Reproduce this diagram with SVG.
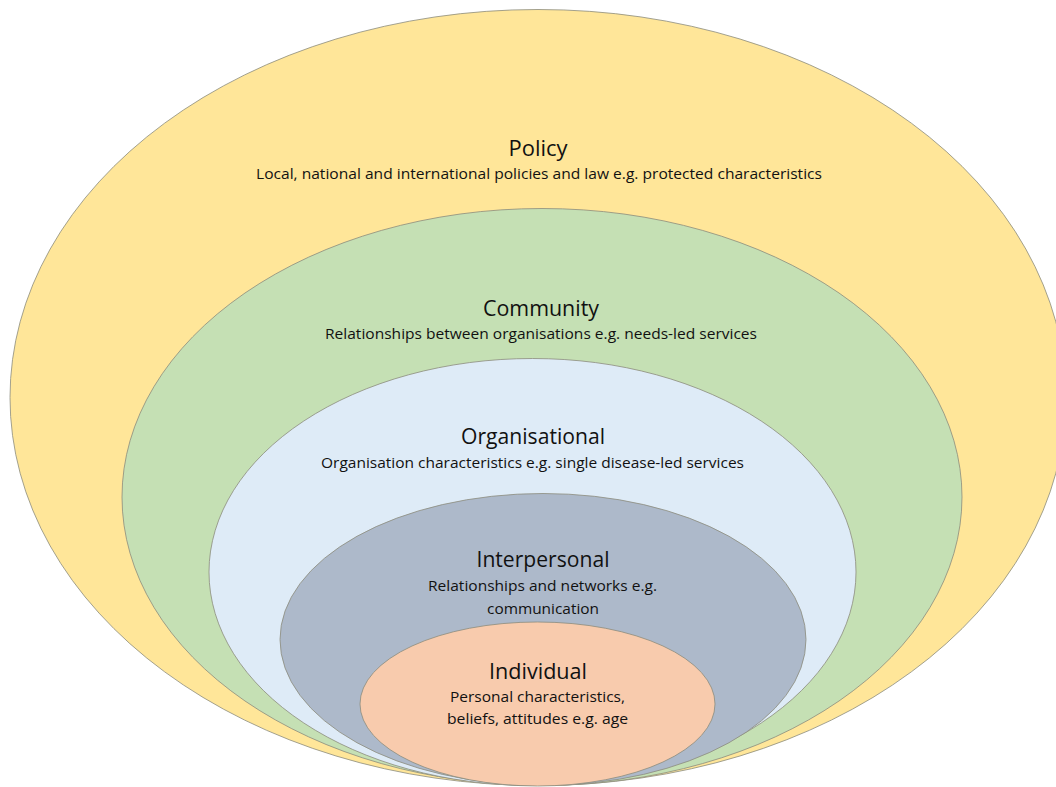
<svg xmlns="http://www.w3.org/2000/svg" width="1056" height="787" viewBox="0 0 1056 787">
<style>
.layer{stroke:#8c8c7c;stroke-width:0.8}
.t{font-family:"Open Sans","Liberation Sans",sans-serif;font-size:21px;fill:#111;text-anchor:middle}
.s{font-family:"Open Sans","Liberation Sans",sans-serif;font-size:14.5px;fill:#111;text-anchor:middle}
</style>
<rect width="1056" height="787" fill="#ffffff"/>
<g id="policy">
<ellipse class="layer" cx="538" cy="397.5" rx="528" ry="388" fill="#FFE699"/>
<text class="t" x="538" y="156" textLength="59" lengthAdjust="spacingAndGlyphs">Policy</text>
<text class="s" x="539" y="178.5" textLength="566" lengthAdjust="spacingAndGlyphs">Local, national and international policies and law e.g. protected characteristics</text>
</g>
<g id="community">
<ellipse class="layer" cx="542" cy="497" rx="420" ry="288.5" fill="#C5E0B4"/>
<text class="t" x="541" y="316" textLength="116" lengthAdjust="spacingAndGlyphs">Community</text>
<text class="s" x="541" y="338.5" textLength="432" lengthAdjust="spacingAndGlyphs">Relationships between organisations e.g. needs-led services</text>
</g>
<g id="organisational">
<ellipse class="layer" cx="532.5" cy="572" rx="323.5" ry="213.5" fill="#DEEBF7"/>
<text class="t" x="533" y="444" textLength="144" lengthAdjust="spacingAndGlyphs">Organisational</text>
<text class="s" x="532.5" y="467.5" textLength="423" lengthAdjust="spacingAndGlyphs">Organisation characteristics e.g. single disease-led services</text>
</g>
<g id="interpersonal">
<ellipse class="layer" cx="543" cy="639.5" rx="263" ry="146" fill="#ADB9CA"/>
<text class="t" x="543" y="567" textLength="133" lengthAdjust="spacingAndGlyphs">Interpersonal</text>
<text class="s" x="542.5" y="590.5" textLength="229" lengthAdjust="spacingAndGlyphs">Relationships and networks e.g.</text>
<text class="s" x="543" y="613.5" textLength="112" lengthAdjust="spacingAndGlyphs">communication</text>
</g>
<g id="individual">
<ellipse class="layer" cx="537.5" cy="704" rx="177.5" ry="82" fill="#F8CBAD"/>
<text class="t" x="538" y="679" textLength="98" lengthAdjust="spacingAndGlyphs">Individual</text>
<text class="s" x="537.5" y="702" textLength="175" lengthAdjust="spacingAndGlyphs">Personal characteristics,</text>
<text class="s" x="537.5" y="724" textLength="181" lengthAdjust="spacingAndGlyphs">beliefs, attitudes e.g. age</text>
</g>
<g id="connectors"/>
</svg>
